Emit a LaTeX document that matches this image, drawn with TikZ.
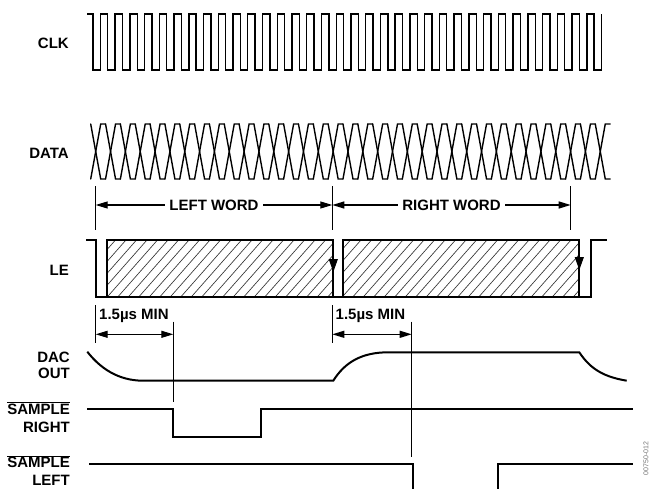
\documentclass[tikz,border=0pt]{standalone}
\usepackage{fontspec}
\setmainfont{Liberation Sans}
\usetikzlibrary{arrows.meta}
\tikzset{
  sig/.style={draw=black, line width=2pt},
  fine/.style={draw=black, line width=1.4pt},
  dim/.style={draw=black, line width=1pt},
  hatch/.style={draw=black!80, line width=0.65pt},
  span/.style={{Triangle[length=12pt,width=7pt]}-{Triangle[length=12pt,width=7pt]}, draw=black, line width=1.2pt},
  tip/.style={-{Triangle[length=13pt,width=9pt]}, draw=black, line width=1pt},
  lbl/.style={font=\fontsize{15}{16}\selectfont\bfseries, inner sep=0pt, anchor=east, align=right},
  word/.style={font=\fontsize{15}{16}\selectfont\bfseries, fill=white, inner xsep=4pt, inner ysep=1pt},
  minlbl/.style={font=\fontsize{15}{16}\selectfont\bfseries, inner sep=0pt, anchor=west},
}

\begin{document}
\begin{tikzpicture}[x=1pt, y=-1pt]
  \useasboundingbox (0,0) rectangle (652,489);
  % signal names
  \node[lbl] (clk) at (69,43) {CLK};
  \node[lbl] (data) at (69,153) {DATA};
  \node[lbl] (le) at (69,270) {LE};
  \node[lbl] (dac) at (70,365) {DAC\\OUT};
  \node[lbl] (sr) at (70,417) {$\overline{\hbox{SAMPLE}}$\\[2pt]RIGHT};
  \node[lbl] (sl) at (70,470.5) {$\overline{\hbox{SAMPLE}}$\\[2pt]LEFT};
  % clock
  \draw[fine] (87.3,14) -- (93,14)
    \foreach \k in {1,...,34} { -- ++(0,56) -- ++(7.37,0) -- ++(0,-56) -- ++(7.37,0) }
    -- ++(0,56) -- ++(7.5,0) -- ++(0,-56);
  % data bits
  \foreach \k in {0,...,34} {
    \pgfmathsetmacro\cx{95.7+14.84*\k}
    \draw[fine, line cap=round] (\cx-5,124) -- (\cx+5,179) -- (\cx+9.84,179);
    \draw[fine, line cap=round] (\cx-5,179) -- (\cx+5,124) -- (\cx+9.84,124);
  }
  % word extents
  \draw[dim] (95.7,186) -- (95.7,230);
  \draw[dim] (332.3,186) -- (332.3,230);
  \draw[dim] (570.7,186) -- (570.7,230);
  \coordinate (w0) at (95.7,205);
  \coordinate (w1) at (332.3,205);
  \coordinate (w2) at (570.7,205);
  \draw[span] (w0) -- node[word] (lw) {LEFT WORD} (w1);
  \draw[span] (w1) -- node[word] (rw) {RIGHT WORD} (w2);
  % LE hatched words
  \begin{scope}
    \clip (106.7,240) rectangle (333.3,296.7);
    \foreach \x in {55,65.5,...,340} \draw[hatch] (\x,296.7) -- ++(50,-56.7);
  \end{scope}
  \begin{scope}
    \clip (343.3,240) rectangle (579.3,296.7);
    \foreach \x in {290,300.5,...,585} \draw[hatch] (\x,296.7) -- ++(50,-56.7);
  \end{scope}
  \draw[sig] (86,240) -- (95.7,240) -- (95.7,296.7) -- (333.3,296.7);
  \draw[sig] (106.7,296.7) -- (106.7,240) -- (333.3,240) -- (333.3,296.7) -- (579.3,296.7);
  \draw[sig] (343.3,296.7) -- (343.3,240) -- (579.3,240) -- (579.3,296.7) -- (591.3,296.7) -- (591.3,240) -- (606.7,240);
  \draw[tip] (333.3,252) -- (333.3,272);
  \draw[tip] (579.3,250) -- (579.3,270);
  % 1.5us minimum
  \draw[dim] (95.7,305) -- (95.7,343);
  \draw[dim] (173.3,321.7) -- (173.3,401.7);
  \node[minlbl] (min1) at (99,316) {1.5µs MIN};
  \coordinate (m0) at (95.7,334.3);
  \coordinate (m1) at (173.3,334.3);
  \draw[span] (m0) -- (m1);
  \draw[dim] (332.3,305) -- (332.3,343);
  \draw[dim] (411.7,321.7) -- (411.7,456.7);
  \node[minlbl] (min2) at (335.5,316) {1.5µs MIN};
  \coordinate (m2) at (332.3,334.3);
  \coordinate (m3) at (411.7,334.3);
  \draw[span] (m2) -- (m3);
  % DAC output
  \draw[sig] (87.3,351.7) .. controls (100,368) and (118,380.7) .. (143.3,380.7) -- (333.3,380.7)
    .. controls (345,362) and (362,352.3) .. (388.3,352.3) -- (579.3,352.3)
    .. controls (591,370) and (605,377) .. (626.7,380.7);
  % sample strobes
  \draw[sig] (87.3,409.3) -- (173.3,409.3) -- (173.3,436.7) -- (261,436.7) -- (261,409.3) -- (633.3,409.3);
  \draw[sig] (89.3,464) -- (412.7,464) -- (412.7,495);
  \draw[sig] (498.3,495) -- (498.3,464) -- (633.3,464);
  \node[rotate=90, anchor=east, font=\fontsize{7}{8}\selectfont, text=black!55, inner sep=0pt] (figno) at (646,441.7) {00750-012};
\end{tikzpicture}
\end{document}
